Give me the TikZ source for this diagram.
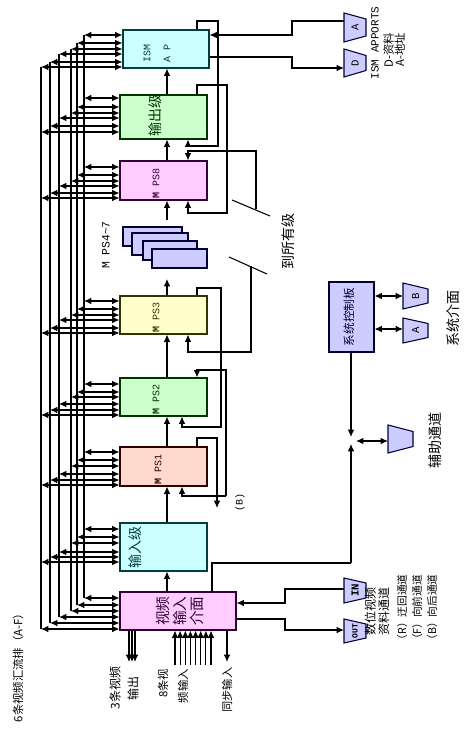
\documentclass[tikz,border=0pt]{standalone}
\usepackage{fontspec}
\setmainfont{Liberation Serif}
\newfontfamily\cjk{Noto Sans CJK SC}
\newfontfamily\monof{Liberation Mono}
\usetikzlibrary{arrows.meta,fit}
\definecolor{cyanL}{HTML}{CCFFFF}
\definecolor{greenL}{HTML}{CCFFCC}
\definecolor{pinkL}{HTML}{FFCCFF}
\definecolor{blueL}{HTML}{CCCCFF}
\definecolor{yellowL}{HTML}{FFFFCC}
\definecolor{peachL}{HTML}{FFD9CC}
\definecolor{tealD}{HTML}{003F3F}
\definecolor{greenD}{HTML}{003300}
\definecolor{purpD}{HTML}{330033}
\definecolor{navyD}{HTML}{000033}
\definecolor{oliveD}{HTML}{333300}
\definecolor{maroonD}{HTML}{330000}
\tikzset{
  box/.style={draw, line width=0.8pt, inner sep=0pt},
  rt/.style={rotate=90, inner sep=0pt, align=center},
  big/.style={font=\cjk\fontsize{10.5}{12.5}\selectfont},
  mps/.style={rt, anchor=west, font=\monof\fontsize{7.5}{9}\selectfont},
  trapfill/.style={fill=blueL, draw=navyD, line width=0.8pt},
}
\newcommand\mytrap[7]{%
  \draw[trapfill] (#2,#3-#4) -- (#2+#6,#3-#5) -- (#2+#6,#3+#5) -- (#2,#3+#4) -- cycle;
  \node[rt, font=\monof\fontsize{8}{9}\selectfont] (#1) at (#2+#6/2,#3) {#7};
}
\begin{document}
\begin{tikzpicture}[x=0.75pt,y=-0.75pt,>={Latex[length=5.5pt,width=5pt]},line width=0.8pt]
\useasboundingbox (0,0) rectangle (471,730);

% boxes
\node[box, draw=tealD, fill=cyanL, fit={(123,30)(209,68)}] (ism) {};
\node[box, draw=greenD, fill=greenL, fit={(120,95)(207,139)}] (outs) {};
\node[box, draw=purpD, fill=pinkL, fit={(120,161)(207,200)}] (mps8) {};
\node[box, draw=navyD, fill=blueL, fit={(123,227)(182,246)}] (s1) {};
\node[box, draw=navyD, fill=blueL, fit={(132,233)(188,255)}] (s2) {};
\node[box, draw=navyD, fill=blueL, fit={(143,241)(197,260)}] (s3) {};
\node[box, draw=navyD, fill=blueL, fit={(152,249)(207,268)}] (s4) {};
\node[box, draw=oliveD, fill=yellowL, fit={(120,296)(207,334)}] (mps3) {};
\node[box, draw=greenD, fill=greenL, fit={(120,378)(207,416)}] (mps2) {};
\node[box, draw=maroonD, fill=peachL, fit={(120,447)(207,486)}] (mps1) {};
\node[box, draw=tealD, fill=cyanL, fit={(120,523)(207,571)}] (ins) {};
\node[box, draw=purpD, fill=pinkL, fit={(120,592)(236,630)}] (vin) {};
\node[box, draw=navyD, fill=blueL, fit={(329,282)(374,352)}] (sys) {};

% box texts
\node[rt, text=tealD, font=\monof\fontsize{7.5}{15}\selectfont] (tism) at (157,54) {ISM\\A P};
\node[rt, big, text=greenD] (tout) at (155,116) {输出级};
\node[mps, text=purpD] (t8) at (156,199) {\textbf{M} PS8};
\node[mps, text=oliveD] (t3) at (156,333) {\textbf{M} PS3};
\node[mps, text=greenD] (t2) at (156,415) {\textbf{M} PS2};
\node[mps, text=maroonD] (t1) at (158,485) {\textbf{M} PS1};
\node[rt, big, text=tealD] (tin) at (135,547) {输入级};
\node[rt, text=purpD, font=\cjk\fontsize{11}{12.75}\selectfont] (tvin) at (180,611) {视频\\输入\\介面};
\node[rt, text=navyD, font=\cjk\fontsize{8.7}{10}\selectfont] (tsys) at (349,317) {系统控制板};
\node[rt, font=\monof\fontsize{8.5}{10}\selectfont] (tstk) at (106,245) {M PS4\textasciitilde7};

% bus
\coordinate (cx) at (167,0);
\foreach \bx/\top/\bot in {84/35/598, 77/43/605, 71/49/611, 59/54/617, 50/62/623, 41/67/629}
  \draw (\bx,\top) -- (\bx,\bot);
\foreach \bname/\ys in {ism/{35,43,49,54,62,67}, outs/{98,107,113,118,126,132},
   mps8/{167,175,181,186,193,198}, mps3/{301,309,315,320,328,333},
   mps2/{384,392,397,404,410,415}, mps1/{452,460,466,474,480,485},
   ins/{529,537,543,552,557,562}, vin/{598,605,611,617,623,629}}{
  \foreach \yy [count=\i] in \ys {
    \pgfmathsetmacro\bx{{84,77,71,59,50,41}[\i-1]}
    \draw[<->] (\bx,\yy) -- (\bname.west |- 0,\yy);
  }
}

% main flow
\draw[->] (vin.north -| cx) -- (ins.south -| cx);
\draw[->] (ins.north -| cx) -- (mps1.south -| cx);
\draw[->] (mps1.north -| cx) -- (mps2.south -| cx);
\draw[->] (mps2.north -| cx) -- (mps3.south -| cx);
\coordinate (stb) at (167,279);
\draw[->] (mps3.north -| cx) -- (stb);
\coordinate (stt) at (167,220);
\draw[->] (stt) -- (mps8.south -| cx);
\draw[->] (mps8.north -| cx) -- (outs.south -| cx);
\draw[->] (outs.north -| cx) -- (ism.south -| cx);

% loops
\draw[->] (ism.north -| 197,0) -- (197,21) -- (218,21) -- (218,146) -- (188,146) -- (outs.south -| 188,0);
\draw[->] (outs.north -| 197,0) -- (197,85) -- (227,85) -- (227,213) -- (188,213) -- (mps8.south -| 188,0);
\draw[->] (256,209) -- (256,151) -- (188,151) -- (mps8.north -| 188,0);
\draw (232,200) -- (270,216);
\draw (229,257) -- (267,274);
\draw[->] (251,266) -- (251,352) -- (188,352) -- (mps3.south -| 188,0);
\draw[->] (mps3.north -| 197,0) -- (197,288) -- (221,288) -- (221,427) -- (182,427) -- (mps2.south -| 182,0);
\draw[->] (226,496) -- (226,370) -- (197,370) -- (mps2.north -| 197,0);
\draw[->] (226,496) -- (182,496) -- (mps1.south -| 182,0);
\coordinate (bend) at (217,508);
\draw[->] (mps1.north -| 197,0) -- (197,438) -- (217,438) -- (bend);
\node[rt, font=\monof\fontsize{7.5}{9}\selectfont] (lb) at (240,502) {(B)};
\node[rt, big] (lall) at (288,242) {到所有级};

% trapezoids
\mytrap{trA}{344}{27.5}{14.5}{8.5}{22}{A}
\mytrap{trD}{344}{63}{14}{7.5}{22}{D}
\mytrap{trIN}{344}{590.5}{12.5}{7.5}{22}{\textbf{IN}}
\mytrap{trOUT}{344}{631}{12}{7}{22}{\fontsize{6}{7}\selectfont\textbf{OUT}}
\mytrap{trB}{403}{296}{13}{7}{25}{B}
\mytrap{trA2}{403}{330.5}{12.5}{7}{25}{A}
\mytrap{trAux}{388}{439}{14}{7.5}{25}{}
\coordinate (pA) at (344,21);
\coordinate (pD) at (344,68);
\coordinate (pIN) at (344,589);
\coordinate (pOUT) at (344,630);
\coordinate (pB) at (403,296);
\coordinate (pA2) at (403,329);
\coordinate (pAux) at (388,441);

% right-side connectors
\draw[->] (pA) -- (292,21) -- (292,35) -- (ism.east |- 0,35);
\draw[->] (ism.east |- 0,57) -- (292,57) -- (292,68) -- (pD);
\draw[->] (pIN) -- (285,589) -- (285,603) -- (vin.east |- 0,603);
\draw[->] (vin.east |- 0,619) -- (285,619) -- (285,630) -- (pOUT);
\draw (vin.north -| 212,0) -- (212,563) -- (351,563);
\coordinate (jn) at (351,444);
\draw[->] (351,563) -- (jn);
\draw[->] (sys.south -| 351,0) -- (351,437);
\draw[<->] (356,441) -- (pAux);
\draw[<->] (sys.east |- pB) -- (pB);
\draw[<->] (sys.east |- pA2) -- (pA2);

% bottom I/O
\foreach \xx in {129,132,135} \draw[->] (vin.south -| \xx,0) -- (\xx,662);
\foreach \xx in {175,180.1,185.3,190.4,195.6,200.7,205.9,211} \draw[<-] (vin.south -| \xx,0) -- (\xx,665);
\draw[->] (vin.south -| 227,0) -- (227,662);

% labels
\node[rt, font=\cjk\fontsize{8.5}{11}\selectfont] (lbus) at (18,665) {6条视频汇流排（A-F）};
\node[rt, font=\cjk\fontsize{9}{13.5}\selectfont] (l3) at (124,688) {3条视频\\输出};
\node[rt, align=right, font=\cjk\fontsize{8.5}{15}\selectfont] (l8) at (173,686) {8条视\\频输入};
\node[rt, font=\cjk\fontsize{8.4}{10}\selectfont] (lsync) at (227,690) {同步输入};
\node[rt, font=\monof\fontsize{8.25}{10}\selectfont] (lports) at (375,43) {ISM APPORTS};
\node[rt, font=\cjk\fontsize{8.5}{8.5}\selectfont] (lda) at (394,50) {D-资料\\A-地址};
\node[rt, font=\cjk\fontsize{9}{10}\selectfont] (ldig) at (377,611) {数位视频\\资料通道};
\node[rt, font=\cjk\fontsize{8}{10}\selectfont] (lR) at (402,610) {（R）迂回通道};
\node[rt, font=\cjk\fontsize{8}{10}\selectfont] (lF) at (417,610) {（F）向前通道};
\node[rt, font=\cjk\fontsize{8}{10}\selectfont] (lBB) at (432,610) {（B）向后通道};
\node[rt, big] (lsysif) at (453,318) {系统介面};
\node[rt, big] (laux) at (435,440) {辅助通道};
\end{tikzpicture}
\end{document}
